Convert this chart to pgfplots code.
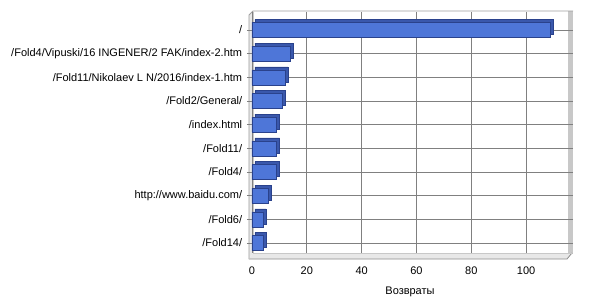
\documentclass[border=0pt]{standalone}
\usepackage{pgfplots}
\pgfplotsset{compat=1.18}
\usepackage{fontspec}
\setmainfont{Liberation Sans}
\definecolor{barfront}{RGB}{78,118,216}
\definecolor{barside}{RGB}{58,88,172}
\definecolor{baredge}{RGB}{42,66,140}
\definecolor{wallgray}{RGB}{200,200,200}
\definecolor{floorfill}{RGB}{232,232,232}
\definecolor{gridgray}{RGB}{128,128,128}
\begin{document}
\fontsize{11bp}{13bp}\selectfont
\begin{tikzpicture}
\path[use as bounding box] (-252bp,-47bp) rectangle (348bp,253bp);
% 3D frame (decoration)
\fill[wallgray] (316bp,-1bp) rectangle (321bp,242bp);
\fill[floorfill] (-3bp,-6bp) -- (315bp,-6bp) -- (320bp,0bp) -- (1bp,0bp) -- cycle;
\draw[wallgray!70!black, line width=0.8bp] (-3bp,-6bp) -- (315bp,-6bp) -- (320bp,0bp);
\draw[wallgray, line width=0.8bp] (1bp,0bp) -- (320bp,0bp);
\fill[floorfill] (-3bp,-6bp) -- (-3bp,238bp) -- (1bp,242bp) -- (1bp,0bp) -- cycle;
\draw[wallgray!80!black, line width=0.8bp] (-3bp,-6bp) -- (-3bp,238bp) -- (1bp,242bp) -- (321bp,242bp);
\draw[wallgray, line width=0.8bp] (1bp,0bp) -- (1bp,241bp);
\begin{axis}[
  at={(0,0)}, anchor=south west,
  scale only axis,
  width=316bp, height=241bp,
  xmin=0, xmax=115.3,
  ymin=-0.76, ymax=9.42,
  y dir=reverse,
  axis line style={draw=none},
  xtick={0,20,40,60,80,100},
  ytick={0,1,2,3,4,5,6,7,8,9},
  yticklabels={/,/Fold4/Vipuski/16 INGENER/2 FAK/index-2.htm,/Fold11/Nikolaev L N/2016/index-1.htm,/Fold2/General/,/index.html,/Fold11/,/Fold4/,http://www.baidu.com/,/Fold6/,/Fold14/},
  xmajorgrids, ymajorgrids,
  grid style={gridgray, line width=0.8bp},
  xtick style={draw=none},
  ytick style={gridgray, line width=0.8bp},
  major tick length=5bp,
  tick align=outside,
  tick label style={font=\fontsize{11bp}{13bp}\selectfont},
  /pgf/number format/assume math mode=true,
  xticklabel style={yshift=-5bp},
  yticklabel style={xshift=-1bp},
  xlabel={Возвраты},
  xlabel style={font=\fontsize{11bp}{13bp}\selectfont, yshift=-5bp},
]
\addplot[xbar, bar shift=0pt, bar width=15bp, fill=barside, draw=baredge, line width=0.6bp, xshift=3bp, yshift=3bp] table[x=v, y=i] {
i v
0 109
1 14
2 12
3 11
4 9
5 9
6 9
7 6
8 4
9 4
};
\addplot[xbar, bar shift=0pt, bar width=15bp, fill=barfront, draw=baredge, line width=0.6bp] table[x=v, y=i] {
i v
0 109
1 14
2 12
3 11
4 9
5 9
6 9
7 6
8 4
9 4
};
\end{axis}
\end{tikzpicture}
\end{document}
